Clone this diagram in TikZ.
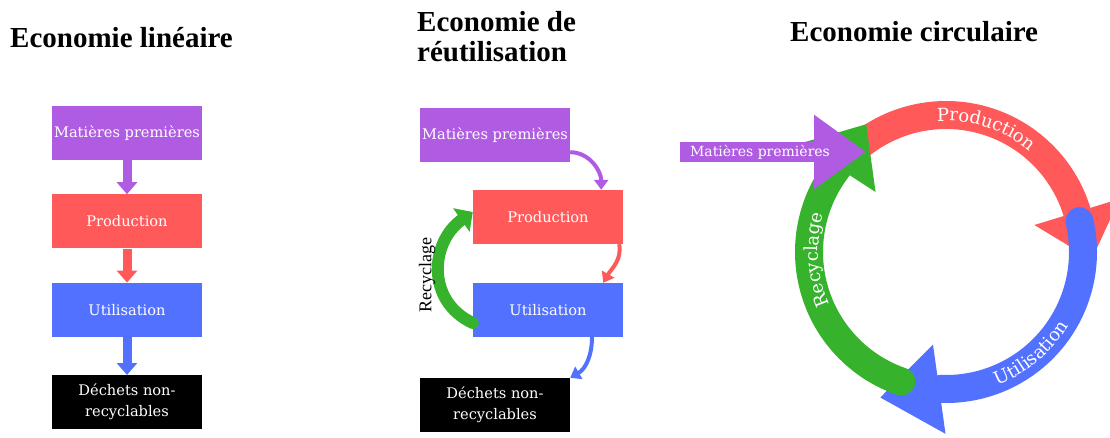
\documentclass[tikz,border=0pt]{standalone}
\usepackage{fontspec}
\setmainfont{Liberation Serif}
\newfontfamily\slabfont{DejaVu Serif}
\usepackage{xcolor}
\usetikzlibrary{arrows.meta, positioning, decorations.text}

\definecolor{matpurple}{RGB}{176,92,226}
\definecolor{prodred}{RGB}{255,89,89}
\definecolor{utilblue}{RGB}{82,113,255}
\definecolor{recgreen}{RGB}{54,178,44}
\newcommand\arclbl{\slabfont\fontsize{18}{18}\selectfont}

\begin{document}
\begin{tikzpicture}[
  x=1pt, y=1pt,
  title/.style={font=\fontsize{29}{30}\selectfont\bfseries, inner sep=0pt},
  box/.style={rectangle, minimum width=150pt, minimum height=54pt, inner sep=0pt,
              align=center, text=white, font=\slabfont\fontsize{14.6}{21}\selectfont},
  flow/.style={line width=9pt, -{Triangle[length=12pt,width=20pt]}},
  bent/.style={line width=4pt, -{Triangle[length=10pt,width=14pt]}},
  ring/.style={line width=28pt},
  arclabel/.style={decorate, decoration={text along path, text align=center, text color=white}}
]
\clip (0,0) rectangle (1110,-438);

% --- Economie lineaire ---
\node[title, anchor=base west] (tlin) at (10,-48) {Economie linéaire};
\node[box, fill=matpurple] (lm) at (127,-133) {Matières premières};
\node[box, fill=prodred, below=34pt of lm] (lp) {Production};
\node[box, fill=utilblue, below=34pt of lp] (lu) {Utilisation};
\node[box, fill=black, below=38pt of lu] (ld) {Déchets non-\\recyclables};

\draw[flow, matpurple] (lm) -- (lp);
\draw[flow, prodred] (lp) -- (lu);
\draw[flow, utilblue] (lu) -- (ld);

% --- Economie de reutilisation ---
\node[title, anchor=north west, align=left] (treu) at (417,-11) {Economie de\\réutilisation};
\node[box, fill=matpurple] (rm) at (495,-135) {Matières premières};
\node[box, fill=prodred] (rp) at (548,-217) {Production};
\node[box, fill=utilblue] (ru) at (548,-310) {Utilisation};
\node[box, fill=black] (rd) at (495,-405) {Déchets non-\\recyclables};

\draw[bent, matpurple] ([yshift=10pt]rm.south east) to[out=0, in=90] ([xshift=-22pt]rp.north east);
\draw[bent, prodred] ([xshift=-4pt]rp.south east) to[out=-80, in=60] ([xshift=-20pt]ru.north east);
\draw[bent, utilblue] ([xshift=44pt]ru.south) to[out=-90, in=30] (rd.north east);
\draw[line width=12pt, recgreen, line cap=round, -{Triangle[length=14pt,width=28pt]}]
  ([yshift=-13pt]ru.west) to[out=155, in=215, looseness=1.2] ([yshift=5pt]rp.west);
\node[rotate=90, font=\fontsize{18}{18}\selectfont] (recyc) at (427,-275) {Recyclage};

% --- Economie circulaire ---
\node[title, anchor=base west] (tcirc) at (790,-42) {Economie circulaire};
\coordinate (ctr) at (946,-252);

\draw[ring, prodred, -{Triangle[length=50pt,width=86pt]}]
  ([shift={(128:137)}]ctr) arc[start angle=128, end angle=17, radius=137] -- ++(-73:50);
\draw[ring, utilblue, line cap=round, -{Triangle[length=60pt,width=86pt]}]
  ([shift={(13:137)}]ctr) arc[start angle=13, end angle=-92, radius=137] -- ++(-172:62);
\draw[ring, recgreen, line cap=round, -{Triangle[length=52pt,width=86pt]}]
  ([shift={(251:137)}]ctr) arc[start angle=251, end angle=142, radius=137] -- ++(57:52);

\coordinate (mpin) at (680,-152);
\coordinate (mpout) at (866,-152);
\draw[line width=20pt, matpurple, -{Triangle[length=52pt,width=71pt]}] (mpin) -- (mpout);
\node[text=white, font=\slabfont\fontsize{14}{14}\selectfont] (cmat) at (760,-152) {Matières premières};

\path[arclabel, decoration={text={|\arclbl|Production}}]
  ([shift={(108:131)}]ctr) arc[start angle=108, end angle=36, radius=131];
\path[arclabel, decoration={text={|\arclbl|Utilisation}}]
  ([shift={(-86:143)}]ctr) arc[start angle=-86, end angle=-14, radius=143];
\path[arclabel, decoration={text={|\arclbl|Recyclage}}]
  ([shift={(218:128)}]ctr) arc[start angle=218, end angle=149, radius=128];
\end{tikzpicture}
\end{document}
